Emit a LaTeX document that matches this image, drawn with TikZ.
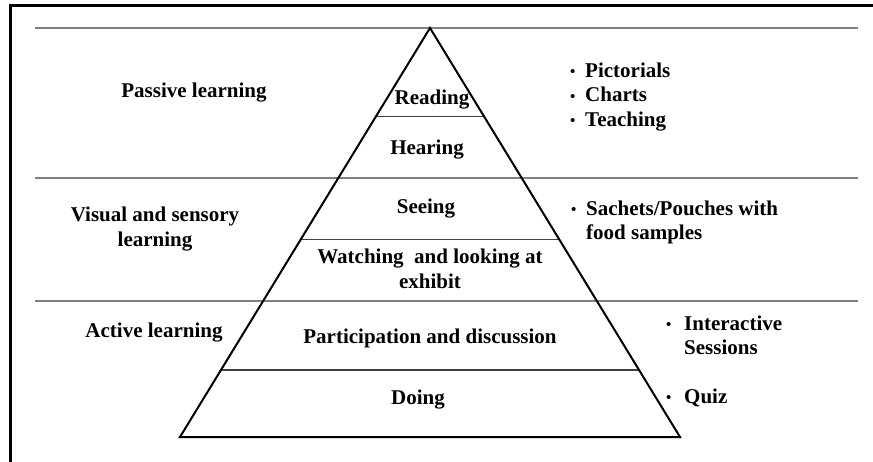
\documentclass[tikz,border=0pt]{standalone}
\usepackage{fontspec}
\setmainfont{Liberation Serif}
\usetikzlibrary{calc}
\begin{document}
\begin{tikzpicture}[x=1pt,y=-1pt,
  txt/.style={font=\fontsize{21}{24.5}\selectfont\bfseries, inner sep=0pt, align=center},
  itm/.style={font=\fontsize{21}{24.5}\selectfont\bfseries, inner sep=0pt, anchor=north west},
  band/.style={draw=black!50, line width=1.1pt},
  tier/.style={draw=black!75, line width=1pt},
  pyr/.style={draw=black, line width=2pt, line join=miter},
  frame/.style={draw=black, line width=3pt}]
\useasboundingbox (0,0) rectangle (873,462);

% outer frame (top and left edges)
\coordinate (fTR) at (873,6);
\coordinate (fTL) at (10,6);
\coordinate (fBL) at (10,462);
\draw[frame] (fTR) -- (fTL) -- (fBL);

% band separators
\coordinate (b1L) at (35,28);  \coordinate (b1R) at (858,28);
\coordinate (b2L) at (35,178); \coordinate (b2R) at (858,178);
\coordinate (b3L) at (35,301); \coordinate (b3R) at (858,301);
\draw[band] (b1L) -- (b1R);
\draw[band] (b2L) -- (b2R);
\draw[band] (b3L) -- (b3R);

% pyramid
\coordinate (apex) at (430,28);
\coordinate (bl) at (180,437);
\coordinate (br) at (680,437);
\draw[tier] ($(apex)!0.2176!(bl)$) -- ($(apex)!0.2176!(br)$);
\draw[tier] ($(apex)!0.5183!(bl)$) -- ($(apex)!0.5183!(br)$);
\draw[tier, line width=1.4pt] ($(apex)!0.8362!(bl)$) -- ($(apex)!0.8362!(br)$);
\draw[pyr] (apex) -- (bl) -- (br) -- cycle;

% tier labels
\node[txt] (reading) at (432,100) {Reading};
\node[txt] (hearing) at (427,150) {Hearing};
\node[txt] (seeing) at (426,209) {Seeing};
\node[txt] (watching) at (430,269) {Watching \ and looking at\\exhibit};
\node[txt] (particip) at (430,338) {Participation and discussion};
\node[txt] (doing) at (418,400) {Doing};

% learning modes
\node[txt] (passive) at (194,93) {Passive learning};
\node[txt] (visual) at (155,229) {Visual and sensory\\learning};
\node[txt] (active) at (154,333) {Active learning};

% examples
\newcommand{\bul}{\makebox[15pt][l]{\raisebox{0.5pt}{\fontsize{15}{15}\selectfont\textbullet}}}
\node[itm] (pict) at (570,60) {\begin{tabular}{@{}l@{}}\bul Pictorials\\\bul Charts\\\bul Teaching\end{tabular}};
\node[itm] (sach) at (571,198) {\begin{tabular}{@{}l@{}l@{}}\bul & Sachets/Pouches with\\ & food samples\end{tabular}};
\node[itm] (inter) at (666,313) {\begin{tabular}{@{}l@{\hspace{3pt}}l@{}}\bul & Interactive\\ & Sessions\end{tabular}};
\node[itm] (quiz) at (666,386) {\begin{tabular}{@{}l@{\hspace{3pt}}l@{}}\bul & Quiz\end{tabular}};
\end{tikzpicture}
\end{document}
